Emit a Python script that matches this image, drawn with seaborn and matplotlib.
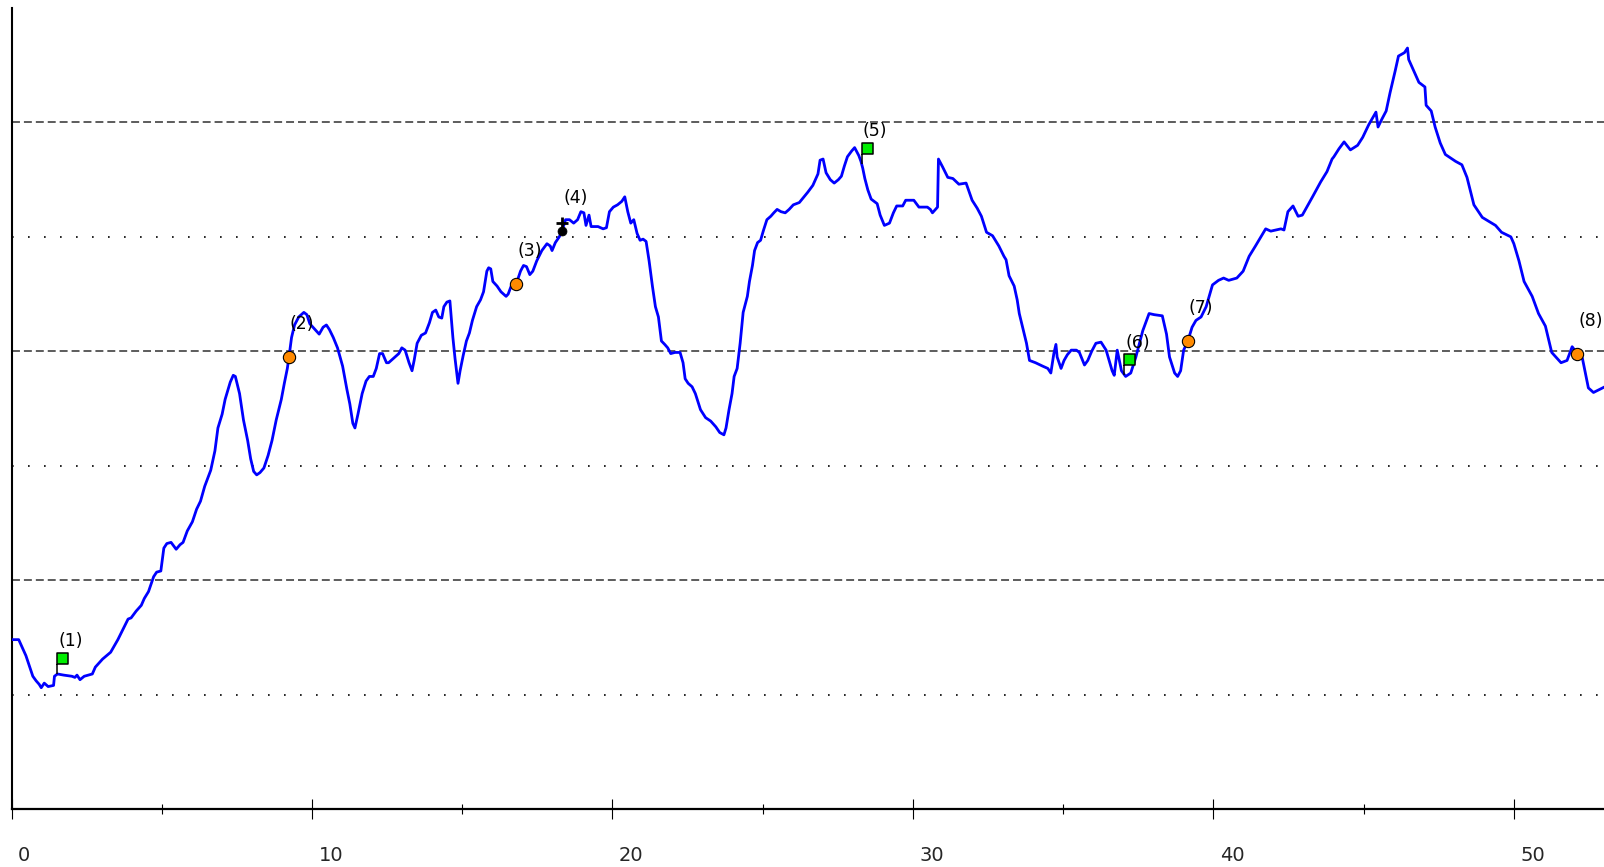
import numpy as np
import pandas as pd
import matplotlib
matplotlib.use("Agg")
import matplotlib.pyplot as plt
import seaborn as sns
from matplotlib.path import Path
from matplotlib.transforms import ScaledTranslation, offset_copy

# ---------------- data ----------------
dist = [0.0, 0.24, 0.48, 0.71, 0.82, 0.92, 0.99, 1.09, 1.22, 1.40, 1.43, 1.53, 1.74, 2.01, 2.11, 2.18,
        2.28, 2.42, 2.69, 2.79, 3.03, 3.30, 3.54, 3.71, 3.88, 3.98, 4.15, 4.32, 4.42, 4.56, 4.73, 4.83,
        4.97, 5.07, 5.17, 5.31, 5.48, 5.61, 5.71, 5.85, 6.02, 6.16, 6.29, 6.43, 6.63, 6.77, 6.87, 7.01,
        7.11, 7.28, 7.38, 7.45, 7.59, 7.72, 7.86, 7.96, 8.06, 8.16, 8.27, 8.40, 8.54, 8.67, 8.81, 8.98,
        9.08, 9.18, 9.25, 9.32, 9.42, 9.56, 9.73, 9.83, 9.93, 10.10, 10.24, 10.37, 10.48, 10.58, 10.71,
        10.85, 11.02, 11.16, 11.26, 11.36, 11.43, 11.53, 11.67, 11.80, 11.91, 12.04, 12.14, 12.25, 12.35,
        12.48, 12.55, 12.72, 12.89, 12.99, 13.10, 13.23, 13.33, 13.40, 13.50, 13.64, 13.78, 13.91, 14.01,
        14.12, 14.22, 14.32, 14.39, 14.49, 14.59, 14.69, 14.76, 14.86, 14.93, 15.03, 15.14, 15.24, 15.34,
        15.48, 15.61, 15.71, 15.82, 15.88, 15.95, 16.02, 16.16, 16.29, 16.46, 16.53, 16.63, 16.80, 16.94,
        17.04, 17.14, 17.25, 17.35, 17.48, 17.65, 17.82, 17.93, 17.99, 18.10, 18.23, 18.33, 18.44, 18.57,
        18.71, 18.84, 18.95, 19.05, 19.12, 19.22, 19.29, 19.42, 19.52, 19.69, 19.80, 19.90, 20.03, 20.17,
        20.31, 20.41, 20.51, 20.61, 20.71, 20.82, 20.92, 21.02, 21.12, 21.22, 21.33, 21.43, 21.53, 21.63,
        21.74, 21.84, 21.94, 22.08, 22.25, 22.35, 22.42, 22.52, 22.65, 22.76, 22.93, 23.10, 23.27, 23.44,
        23.57, 23.71, 23.78, 23.88, 23.98, 24.05, 24.15, 24.25, 24.35, 24.49, 24.56, 24.66, 24.73, 24.83,
        24.93, 25.03, 25.14, 25.27, 25.37, 25.48, 25.61, 25.75, 25.88, 26.02, 26.22, 26.50, 26.67, 26.84,
        26.91, 27.01, 27.11, 27.25, 27.38, 27.52, 27.62, 27.72, 27.82, 27.96, 28.06, 28.20, 28.27, 28.33,
        28.40, 28.50, 28.61, 28.81, 28.91, 29.05, 29.22, 29.35, 29.46, 29.66, 29.76, 30.03, 30.20, 30.48,
        30.58, 30.65, 30.82, 30.85, 30.99, 31.16, 31.33, 31.53, 31.77, 31.97, 32.14, 32.28, 32.45, 32.65,
        32.86, 33.03, 33.10, 33.20, 33.37, 33.47, 33.54, 33.67, 33.78, 33.88, 34.08, 34.32, 34.49, 34.59,
        34.69, 34.76, 34.80, 34.93, 35.03, 35.14, 35.27, 35.44, 35.54, 35.71, 35.82, 35.95, 36.09, 36.26,
        36.43, 36.53, 36.63, 36.70, 36.80, 36.94, 37.08, 37.25, 37.42, 37.65, 37.86, 38.03, 38.30, 38.44,
        38.54, 38.71, 38.81, 38.91, 39.01, 39.15, 39.29, 39.42, 39.59, 39.76, 39.97, 40.17, 40.34, 40.51,
        40.78, 40.99, 41.19, 41.40, 41.74, 41.91, 42.25, 42.35, 42.48, 42.65, 42.82, 42.96, 43.30, 43.57,
        43.78, 43.95, 44.01, 44.18, 44.35, 44.56, 44.80, 44.97, 45.17, 45.41, 45.48, 45.61, 45.75, 45.88,
        46.05, 46.16, 46.36, 46.46, 46.50, 46.67, 46.84, 47.04, 47.08, 47.25, 47.38, 47.55, 47.72, 48.06,
        48.27, 48.44, 48.67, 48.95, 49.39, 49.59, 49.90, 50.00, 50.17, 50.34, 50.61, 50.82, 51.05, 51.26,
        51.57, 51.77, 51.94, 52.11, 52.28, 52.38, 52.48, 52.65, 52.96, 53.10]

elev = [1.48, 1.48, 1.34, 1.16, 1.12, 1.09, 1.06, 1.10, 1.07, 1.08, 1.16, 1.18, 1.17, 1.16, 1.15, 1.17,
        1.13, 1.16, 1.18, 1.24, 1.31, 1.37, 1.48, 1.57, 1.66, 1.67, 1.73, 1.78, 1.84, 1.90, 2.03, 2.07,
        2.08, 2.28, 2.32, 2.33, 2.27, 2.31, 2.33, 2.43, 2.51, 2.62, 2.69, 2.82, 2.96, 3.13, 3.33, 3.45,
        3.58, 3.73, 3.79, 3.78, 3.63, 3.40, 3.22, 3.06, 2.95, 2.92, 2.94, 2.98, 3.09, 3.22, 3.40, 3.58,
        3.72, 3.85, 3.98, 4.12, 4.23, 4.30, 4.34, 4.32, 4.24, 4.19, 4.15, 4.21, 4.23, 4.19, 4.12,
        4.03, 3.87, 3.67, 3.54, 3.37, 3.33, 3.45, 3.63, 3.74, 3.78, 3.78, 3.85, 3.98, 3.98,
        3.90, 3.90, 3.94, 3.98, 4.03, 4.01, 3.90, 3.83, 3.92, 4.07, 4.14, 4.16, 4.25, 4.34,
        4.36, 4.30, 4.29, 4.39, 4.43, 4.44, 4.12, 3.94, 3.72, 3.83, 3.96, 4.09, 4.16, 4.27,
        4.39, 4.45, 4.52, 4.70, 4.73, 4.72, 4.61, 4.57, 4.52, 4.48, 4.50, 4.57, 4.59, 4.70,
        4.75, 4.74, 4.67, 4.70, 4.79, 4.88, 4.94, 4.92, 4.88, 4.95, 5.00, 5.06, 5.15, 5.15,
        5.12, 5.15, 5.22, 5.21, 5.10, 5.19, 5.09, 5.09, 5.09, 5.07, 5.08, 5.22, 5.26, 5.28,
        5.31, 5.35, 5.22, 5.12, 5.15, 5.03, 4.97, 4.98, 4.96, 4.79, 4.57, 4.39, 4.30, 4.09,
        4.06, 4.03, 3.98, 3.99, 3.99, 3.90, 3.76, 3.72, 3.69, 3.63, 3.49, 3.42, 3.39, 3.34,
        3.29, 3.27, 3.33, 3.49, 3.63, 3.78, 3.85, 4.07, 4.34, 4.48, 4.61, 4.75, 4.88, 4.95,
        4.97, 5.06, 5.15, 5.18, 5.21, 5.24, 5.22, 5.21, 5.24, 5.28, 5.30, 5.39, 5.45, 5.55,
        5.67, 5.68, 5.56, 5.50, 5.47, 5.50, 5.53, 5.62, 5.70, 5.75, 5.78, 5.71, 5.66, 5.60,
        5.51, 5.41, 5.33, 5.29, 5.19, 5.10, 5.12, 5.21, 5.27, 5.27, 5.32, 5.32, 5.26, 5.26,
        5.24, 5.21, 5.26, 5.68, 5.61, 5.52, 5.51, 5.46, 5.47, 5.32, 5.25, 5.18, 5.04, 5.01,
        4.92, 4.83, 4.80, 4.66, 4.57, 4.45, 4.33, 4.19, 4.07, 3.92, 3.90, 3.87, 3.85, 3.81,
        3.98, 4.06, 3.95, 3.85, 3.92, 3.97, 4.01, 4.01, 3.99, 3.88, 3.92, 4.00, 4.07, 4.08,
        4.01, 3.92, 3.83, 3.79, 4.01, 3.83, 3.78, 3.81, 3.95, 4.18, 4.33, 4.32, 4.31, 4.15,
        3.95, 3.81, 3.78, 3.83, 4.01, 4.09, 4.21, 4.27, 4.30, 4.39, 4.58, 4.62, 4.64, 4.62,
        4.64, 4.70, 4.83, 4.92, 5.07, 5.05, 5.07, 5.06, 5.22, 5.27, 5.18, 5.19, 5.35, 5.48,
        5.57, 5.68, 5.70, 5.77, 5.83, 5.76, 5.80, 5.87, 5.98, 6.09, 5.96, 6.03, 6.10, 6.26,
        6.45, 6.58, 6.61, 6.65, 6.55, 6.45, 6.35, 6.31, 6.15, 6.10, 5.96, 5.82, 5.72, 5.66,
        5.63, 5.52, 5.28, 5.17, 5.10, 5.04, 5.00, 4.94, 4.79, 4.61, 4.48, 4.33, 4.22, 3.99,
        3.90, 3.92, 4.04, 3.98, 3.94, 3.81, 3.68, 3.64, 3.68, 3.70]

event_x = [1.53, 9.22, 16.80, 18.33, 28.30, 37.03, 39.15, 52.11]
event_y = [1.18, 3.95, 4.59, 5.05, 5.64, 3.79, 4.09, 3.98]
event_kind = ["flag", "circle", "circle", "start", "flag", "flag", "circle", "circle"]
event_label = ["(1)", "(2)", "(3)", "(4)", "(5)", "(6)", "(7)", "(8)"]

dashed_levels = [2, 4, 6]
dotted_levels = [1, 3, 5]
x_major = [0, 10, 20, 30, 40, 50]
x_minor = [5, 15, 25, 35, 45]
x_labels = ["0", "10", "20", "30", "40", "50"]

# ---------------- figure ----------------
sns.set_style("white")
plt.rcParams["font.family"] = ["DejaVu Sans"]

W, H, DPI = 1604, 867, 100
fig = plt.figure(figsize=(W / DPI, H / DPI), dpi=DPI)
left_px, right_px, top_px, bottom_px = 11.5, 1604, 8, 809
ax = fig.add_axes([left_px / W, (H - bottom_px) / H, (right_px - left_px) / W, (bottom_px - top_px) / H])

for lv in dashed_levels:
    ax.axhline(lv, color="#303030", lw=1.1, linestyle=(0, (5.2, 2.6)), zorder=1)
for lv in dotted_levels:
    ax.axhline(lv, color="black", lw=1.2, linestyle=(0, (1.0, 8.6)), zorder=1)

df = pd.DataFrame({"dist": dist, "elev": elev})
sns.lineplot(data=df, x="dist", y="elev", ax=ax, color="#0000ff", linewidth=2.0,
             estimator=None, sort=False, zorder=3)

ev = pd.DataFrame({"x": event_x, "y": event_y, "kind": event_kind, "label": event_label})

# flag marker: thin pole (as a narrow polygon) + square flag on top
flag_path = Path(
    [(-0.45, 0), (0.45, 0), (0.45, 10), (-0.45, 10), (-0.45, 0),
     (0, 10), (11, 10), (11, 21), (0, 21), (0, 10)],
    [Path.MOVETO, Path.LINETO, Path.LINETO, Path.LINETO, Path.CLOSEPOLY,
     Path.MOVETO, Path.LINETO, Path.LINETO, Path.LINETO, Path.CLOSEPOLY],
)
flags = ev[ev.kind == "flag"]
ax.scatter(flags.x, flags.y, marker=flag_path, s=30.2 ** 2, facecolor="#00ee00",
           edgecolor="black", linewidths=1.1, zorder=5, clip_on=False)

circles = ev[ev.kind == "circle"]
sns.scatterplot(data=circles, x="x", y="y", ax=ax, s=78, color="#ff8a00",
                edgecolor="black", linewidth=0.8, zorder=5, clip_on=False)

starts = ev[ev.kind == "start"]
sns.scatterplot(data=starts, x="x", y="y", ax=ax, s=42, color="black",
                edgecolor="black", linewidth=0.5, zorder=5)
plus_tr = offset_copy(ax.transData, fig=fig, x=0, y=8, units="dots")
ax.scatter(starts.x, starts.y, marker="+", s=75, color="black", linewidths=2.0,
           transform=plus_tr, zorder=6)

for _, r in ev.iterrows():
    ax.annotate(r.label, xy=(r.x, r.y), xytext=(9.6, 23.5), textcoords="offset points",
                ha="center", va="center", fontsize=12.5, color="black", zorder=7,
                annotation_clip=False)

ax.set_xlim(0, 53)
ax.set_ylim(0, 7)
ax.set_xlabel("")
ax.set_ylabel("")
ax.set_yticks([])
ax.set_xticks(x_major)
ax.set_xticklabels(x_labels)
ax.set_xticks(x_minor, minor=True)
ax.tick_params(axis="x", which="major", direction="inout", length=15, width=0.8,
               color="black", labelsize=14, pad=19)
ax.tick_params(axis="x", which="minor", direction="inout", length=7.5, width=0.8, color="black")
ax.tick_params(axis="x", which="both", bottom=True)

for s in ["top", "right"]:
    ax.spines[s].set_visible(False)
ax.spines["left"].set_linewidth(1.5)
ax.spines["bottom"].set_linewidth(1.6)
ax.spines["left"].set_color("black")
ax.spines["bottom"].set_color("black")

shift = ScaledTranslation(6.5 / DPI, 0, fig.dpi_scale_trans)
for lab in ax.get_xticklabels():
    lab.set_ha("left")
    lab.set_transform(lab.get_transform() + shift)

fig.savefig("out.png", dpi=DPI, facecolor="white")
